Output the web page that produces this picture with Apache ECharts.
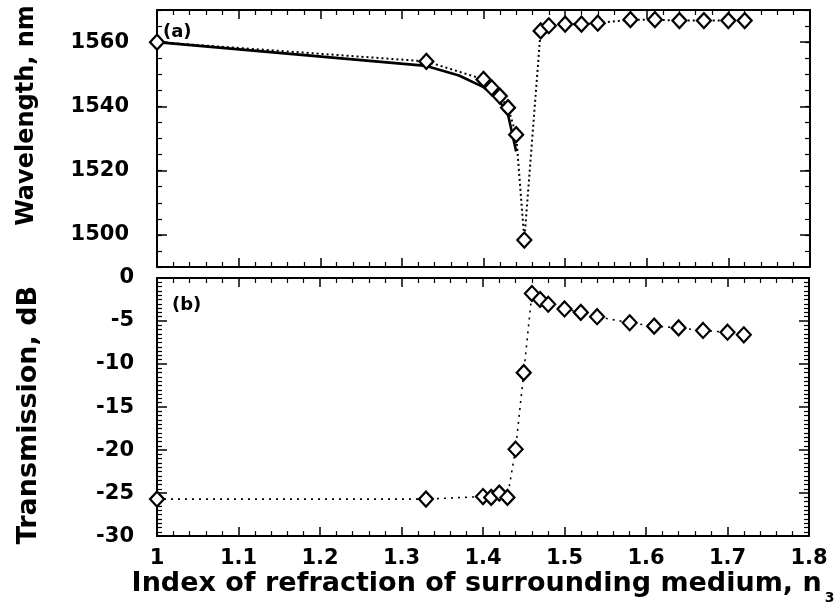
<!DOCTYPE html>
<html>
<head>
<meta charset="utf-8">
<script src="https://cdn.jsdelivr.net/npm/echarts@6/dist/echarts.min.js"></script>
<style>html,body{margin:0;padding:0;background:#fff;}#chart{width:838px;height:606px;}</style>
</head>
<body>
<div id="chart"></div>
<script>
// ---- data ----
const nTop = [1, 1.33, 1.40, 1.41, 1.42, 1.43, 1.44, 1.45, 1.47, 1.48, 1.50, 1.52, 1.54, 1.58, 1.61, 1.64, 1.67, 1.70, 1.72];
const wavelength = [1560, 1554, 1548.4, 1545.8, 1543.2, 1539.6, 1531.2, 1498.4, 1563.5, 1565.1, 1565.6, 1565.6, 1565.9, 1567, 1567, 1566.7, 1566.7, 1566.7, 1566.7];
const nTheory = [1, 1.33, 1.37, 1.40, 1.42, 1.43, 1.44];
const wavelengthTheory = [1560, 1552.6, 1549.6, 1546, 1541.5, 1537.5, 1526];
const nBottom = [1, 1.33, 1.40, 1.41, 1.42, 1.43, 1.44, 1.45, 1.46, 1.47, 1.48, 1.50, 1.52, 1.54, 1.58, 1.61, 1.64, 1.67, 1.70, 1.72];
const transmission = [-25.7, -25.7, -25.4, -25.5, -25.0, -25.5, -19.9, -11.0, -1.8, -2.5, -3.05, -3.6, -4.0, -4.5, -5.2, -5.6, -5.8, -6.1, -6.3, -6.6];
const wavelengthTicks = [1500, 1520, 1540, 1560];
const xTitle = 'Index of refraction of surrounding medium, n';
const xTitleSub = '3';
const topTitle = 'Wavelength, nm';
const bottomTitle = 'Transmission, dB';

const zip = (a, b) => a.map((v, i) => [v, b[i]]);
const FONT = 'DejaVu Sans';
const lineStyle = {color: '#000', width: 2};
const plain = v => String(v);

function xAxis(grid, pos, labels) {
  const ax = {
    type: 'value', gridIndex: grid, position: pos, min: 1, max: 1.8, interval: 0.1,
    axisLine: {show: true, onZero: false, lineStyle},
    axisTick: {show: true, inside: true, length: 9, lineStyle: {color: '#000', width: 1.5}},
    minorTick: {show: true, splitNumber: 5, length: 5, lineStyle: {color: '#000', width: 1.2}},
    splitLine: {show: false},
    axisLabel: {show: labels, color: '#000', fontFamily: FONT, fontWeight: 'bold', fontSize: 21, margin: 12, formatter: plain}
  };
  if (labels) {
    ax.name = '{a|' + xTitle + '}{s|' + xTitleSub + '}';
    ax.nameLocation = 'middle';
    ax.nameGap = 29;
    ax.nameTextStyle = {
      rich: {
        a: {fontFamily: FONT, fontWeight: 'bold', fontSize: 27, color: '#000', lineHeight: 30, verticalAlign: 'top'},
        s: {fontFamily: FONT, fontWeight: 'bold', fontSize: 14, color: '#000', padding: [21, 0, 0, 3], lineHeight: 14, verticalAlign: 'top'}
      }
    };
  }
  return ax;
}

const yAxes = [
  // top panel, left: line + minor ticks
  {type: 'value', gridIndex: 0, position: 'left', min: 1490, max: 1570, interval: 5,
   axisLine: {show: true, onZero: false, lineStyle}, splitLine: {show: false},
   axisTick: {show: true, inside: true, length: 5, lineStyle: {color: '#000', width: 1.2}},
   axisLabel: {show: false}},
  // top panel, left: major ticks + labels + name
  {type: 'value', gridIndex: 0, position: 'left', min: 1490, max: 1570,
   axisLine: {show: false}, splitLine: {show: false},
   axisTick: {show: true, inside: true, length: 10, customValues: wavelengthTicks, lineStyle: {color: '#000', width: 1.5}},
   axisLabel: {show: true, customValues: wavelengthTicks, formatter: plain, color: '#000', fontFamily: FONT, fontWeight: 'bold', fontSize: 21, margin: 28},
   name: topTitle, nameLocation: 'middle', nameGap: 118,
   nameTextStyle: {fontFamily: FONT, fontWeight: 'bold', fontSize: 24, color: '#000', padding: [0, 0, 0, 46]}},
  // top panel, right
  {type: 'value', gridIndex: 0, position: 'right', min: 1490, max: 1570, interval: 5,
   axisLine: {show: true, onZero: false, lineStyle}, splitLine: {show: false},
   axisTick: {show: true, inside: true, length: 5, lineStyle: {color: '#000', width: 1.2}},
   axisLabel: {show: false}},
  {type: 'value', gridIndex: 0, position: 'right', min: 1490, max: 1570,
   axisLine: {show: false}, splitLine: {show: false},
   axisTick: {show: true, inside: true, length: 10, customValues: wavelengthTicks, lineStyle: {color: '#000', width: 1.5}},
   axisLabel: {show: false}},
  // bottom panel, left
  {type: 'value', gridIndex: 1, position: 'left', min: -30, max: 0, interval: 5,
   axisLine: {show: true, onZero: false, lineStyle}, splitLine: {show: false},
   axisTick: {show: true, inside: true, length: 10, lineStyle: {color: '#000', width: 1.5}},
   minorTick: {show: true, splitNumber: 10, length: 5, lineStyle: {color: '#000', width: 1.2}},
   axisLabel: {show: true, formatter: plain, color: '#000', fontFamily: FONT, fontWeight: 'bold', fontSize: 21, margin: 23},
   name: bottomTitle, nameLocation: 'middle', nameGap: 115,
   nameTextStyle: {fontFamily: FONT, fontWeight: 'bold', fontSize: 27, color: '#000', padding: [0, 16, 0, 0]}},
  // bottom panel, right
  {type: 'value', gridIndex: 1, position: 'right', min: -30, max: 0, interval: 5,
   axisLine: {show: true, onZero: false, lineStyle}, splitLine: {show: false},
   axisTick: {show: true, inside: true, length: 10, lineStyle: {color: '#000', width: 1.5}},
   minorTick: {show: true, splitNumber: 10, length: 5, lineStyle: {color: '#000', width: 1.2}},
   axisLabel: {show: false}}
];

const diamond = {
  symbol: 'diamond', symbolSize: [14, 15],
  itemStyle: {color: '#fff', borderColor: '#000', borderWidth: 2.2}
};

const option = {
  animation: false,
  backgroundColor: '#fff',
  grid: [
    {left: 157, top: 10, width: 653, height: 257},
    {left: 157, top: 278, width: 652, height: 259}
  ],
  xAxis: [xAxis(0, 'bottom', false), xAxis(0, 'top', false), xAxis(1, 'bottom', true), xAxis(1, 'top', false)],
  yAxis: yAxes,
  series: [
    {type: 'line', name: 'theory', xAxisIndex: 0, yAxisIndex: 0, data: zip(nTheory, wavelengthTheory),
     showSymbol: false, symbol: 'none', lineStyle: {color: '#000', width: 2.6}, z: 2},
    Object.assign({type: 'line', name: 'wavelength', xAxisIndex: 0, yAxisIndex: 0, data: zip(nTop, wavelength),
     lineStyle: {color: '#000', width: 2, type: [2, 3]}, z: 3}, diamond),
    Object.assign({type: 'line', name: 'transmission', xAxisIndex: 2, yAxisIndex: 4, data: zip(nBottom, transmission),
     lineStyle: {color: '#000', width: 1.6, type: [2, 5]}, z: 3}, diamond)
  ],
  graphic: [
    {type: 'text', left: 163, top: 23, style: {text: '(a)', font: 'bold 18px "DejaVu Sans"', fill: '#000'}},
    {type: 'text', left: 172, top: 296, style: {text: '(b)', font: 'bold 18px "DejaVu Sans"', fill: '#000'}}
  ]
};

const chart = echarts.init(document.getElementById('chart'), null, {renderer: 'canvas'});
chart.setOption(option);
</script>
</body>
</html>
